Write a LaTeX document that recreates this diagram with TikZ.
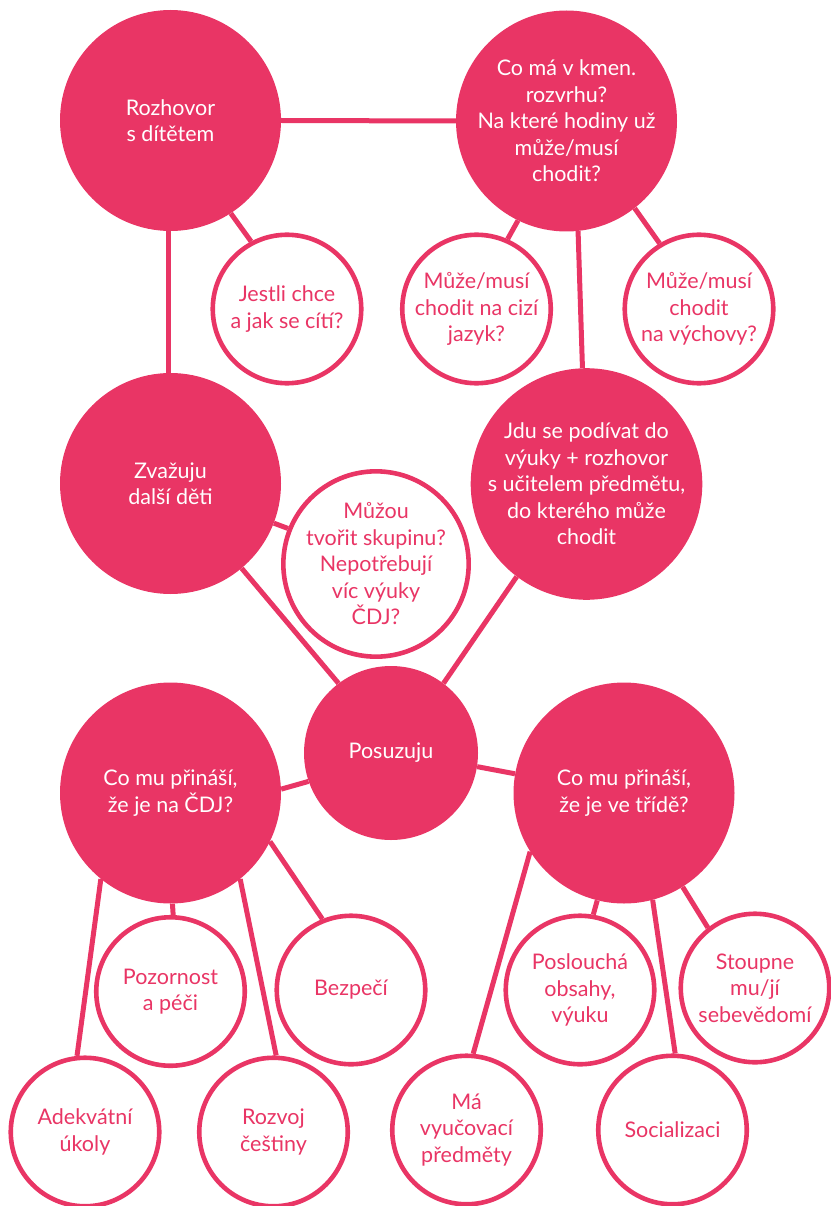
\documentclass[tikz,border=0pt]{standalone}
\usepackage{fontspec}
\setmainfont{Lato}
\definecolor{pk}{RGB}{233,53,101}
\newcommand\mfs{\fontsize{21.5}{26.5}\selectfont}
\begin{document}
\begin{tikzpicture}[x=1pt,y=-1pt,
  big/.style={circle,fill=pk,text=white,minimum size=221pt,inner sep=0pt,align=center,font=\mfs},
  small/.style={circle,draw=pk,line width=4.6pt,fill=white,text=pk,minimum size=148.5pt,inner sep=0pt,align=center,font=\mfs},
  link/.style={draw=pk,line width=5pt}]
\useasboundingbox (0,0) rectangle (830,1206);
\node[big] (roz) at (170.5,120.5) {Rozhovor\\s dítětem};
\node[big] (kmen) at (566.5,121) {Co má v kmen.\\rozvrhu?\\Na které hodiny už\\může/musí\\chodit?};
\node[small] (jestli) at (287,309) {Jestli chce\\a jak se cítí?};
\node[small] (cizi) at (476.5,309) {Může/musí\\chodit na cizí\\jazyk?};
\node[small] (vych) at (699,309) {Může/musí\\chodit\\na výchovy?};
\node[big] (zvaz) at (170.5,483.5) {Zvažuju\\další děti};
\node[big] (jdu) at (586.5,484) {Jdu se podívat do\\výuky + rozhovor\\s učitelem předmětu,\\do kterého může\\chodit};
\node[small, minimum size=177.5pt] (muzou) at (376,564) {Můžou\\tvořit skupinu?\\Nepotřebují\\víc výuky\\ČDJ?};
\node[big, minimum size=174pt] (pos) at (391,753) {Posuzuju};
\node[big] (cdj) at (170.5,793) {Co mu přináší,\\že je na ČDJ?};
\node[big] (trida) at (624,793) {Co mu přináší,\\že je ve třídě?};
\node[small] (poz) at (170.5,991.5) {Pozornost\\a péči};
\node[small] (bez) at (351,990) {Bezpečí};
\node[small] (ade) at (85,1132) {Adekvátní\\úkoly};
\node[small] (rozv) at (273.5,1132) {Rozvoj\\češtiny};
\node[small] (ma) at (466.5,1130) {Má\\vyučovací\\předměty};
\node[small] (posl) at (580,990) {Poslouchá\\obsahy,\\výuku};
\node[small] (soc) at (672.5,1130) {Socializaci};
\node[small] (stoup) at (755,988) {Stoupne\\mu/jí\\sebevědomí};
\draw[link] (roz.east) -- (kmen.west);
\draw[link] (roz.-57.2) -- (jestli.118.2);
\draw[link] (roz.-91) -- (zvaz.91);
\draw[link] (kmen.-116.6) -- (cizi.66.1);
\draw[link] (kmen.-84.5) -- (jdu.92.3);
\draw[link] (kmen.-52.4) -- (vych.121.5);
\draw[link] (zvaz.-21.1) -- (muzou.158.9);
\draw[link] (zvaz.-50.6) -- (pos.127.6);
\draw[link] (jdu.-127.9) -- (pos.53.4);
\draw[link] (pos.-161.8) -- (cdj.2.1);
\draw[link] (pos.-9.9) -- (trida.170.6);
\draw[link] (cdj.-129) -- (ade.96.8);
\draw[link] (cdj.-89) -- (poz.88);
\draw[link] (cdj.-51.8) -- (rozv.88.9);
\draw[link] (cdj.-26.9) -- (bez.112.5);
\draw[link] (trida.-148.8) -- (ma.85.9);
\draw[link] (trida.-104.2) -- (posl.80.4);
\draw[link] (trida.-75.8) -- (soc.88.1);
\draw[link] (trida.-58.3) -- (stoup.128.2);
\end{tikzpicture}
\end{document}
